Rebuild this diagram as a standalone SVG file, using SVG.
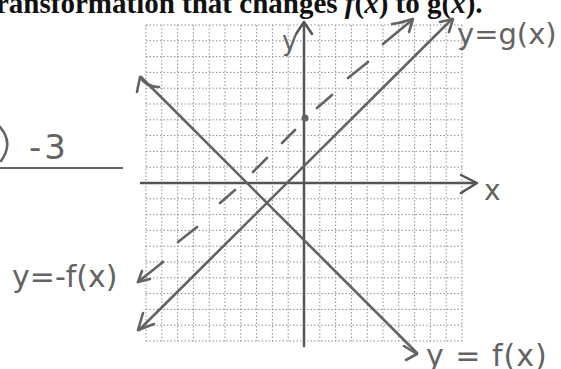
<svg xmlns="http://www.w3.org/2000/svg" width="561" height="369" viewBox="0 0 561 369">
  <style>
    .grid { stroke: #8f8f8f; stroke-width: 1; stroke-dasharray: 1.5 2; fill: none; }
    .axis { stroke: #555; stroke-width: 2.5; fill: none; stroke-linecap: round; stroke-linejoin: round; }
    .pen { stroke: #636363; stroke-width: 2.6; fill: none; stroke-linecap: round; stroke-linejoin: round; }
    .hand { font-family: "DejaVu Sans", "Liberation Sans", sans-serif; fill: #636363; }
    .head { font-family: "Liberation Serif", "Times New Roman", serif; font-weight: bold; fill: #111; }
  </style>
  <rect width="561" height="369" fill="#fff"/>

  <!-- header text -->
  <text class="head" x="-4" y="13" font-size="29">ransformation that changes <tspan font-style="italic">f</tspan>(<tspan font-style="italic">x</tspan>) to g(<tspan font-style="italic">x</tspan>).</text>

  <!-- left margin handwriting -->
  <g id="note-left">
    <path class="pen" d="M0,127 Q14,143 1,161"/>
    <text class="hand" x="29" y="159" font-size="34" letter-spacing="3">-3</text>
    <line x1="0" y1="168" x2="123" y2="168" stroke="#333" stroke-width="1.6"/>
  </g>

  <!-- grid -->
  <g id="grid">
    <path class="grid" d="M146,25V341M161.8,25V341M177.6,25V341M193.4,25V341M209.2,25V341M225,25V341M240.8,25V341M256.6,25V341M272.4,25V341M288.2,25V341M319.8,25V341M335.6,25V341M351.4,25V341M367.2,25V341M383,25V341M398.8,25V341M414.6,25V341M430.4,25V341M446.2,25V341M462,25V341"/>
    <path class="grid" d="M146,25H462M146,40.8H462M146,56.6H462M146,72.4H462M146,88.2H462M146,104H462M146,119.8H462M146,135.6H462M146,151.4H462M146,167.2H462M146,198.8H462M146,214.6H462M146,230.4H462M146,246.2H462M146,262H462M146,277.8H462M146,293.6H462M146,309.4H462M146,325.2H462M146,341H462"/>
  </g>

  <!-- axes -->
  <g id="axes">
    <path class="axis" d="M141,183H477M461,175L477,183L461,193"/>
    <path class="axis" d="M304,346V22M296,34L304,22L312,34"/>
    <text class="hand" x="282" y="50" font-size="26">y</text>
    <text class="hand" x="484" y="200" font-size="28">x</text>
  </g>

  <g id="connectors">
    <!-- f(x) = -x - 4 -->
    <g id="line-f">
      <path class="pen" d="M141,77L417,353"/>
      <path class="pen" d="M137,92L140,77Q146,87 159,87"/>
      <path class="pen" d="M404,346L417,354L406,360"/>
    </g>
    <!-- g(x) = x + 1 -->
    <g id="line-g">
      <path class="pen" d="M139,330L452,19"/>
      <path class="pen" d="M143,313L138,330L154,324"/>
      <path class="pen" d="M440,22L453,19L449,32"/>
    </g>
    <!-- -f(x) = x + 4 dashed -->
    <g id="line-negf">
      <path class="pen" d="M138,282L163,262M178,242L197,227M220,203L235,190M253,172L267,158M282,143L295,130M317,108L332,95M348,78L368,62M383,44L412,20"/>
      <path class="pen" d="M142,271L138,282L150,279"/>
      <path class="pen" d="M398,23L413,19L409,32M392,24L404,22"/>
      <circle cx="305" cy="118" r="3.5" fill="#636363"/>
    </g>
  </g>

  <!-- labels -->
  <g id="label-g">
    <text class="hand" x="457" y="44" font-size="29">y=g(x)</text>
  </g>
  <g id="label-f">
    <text class="hand" x="426" y="366" font-size="30" letter-spacing="1">y = f(x)</text>
  </g>
  <g id="label-negf">
    <text class="hand" x="12" y="287" font-size="30">y=-f(x)</text>
  </g>
</svg>
